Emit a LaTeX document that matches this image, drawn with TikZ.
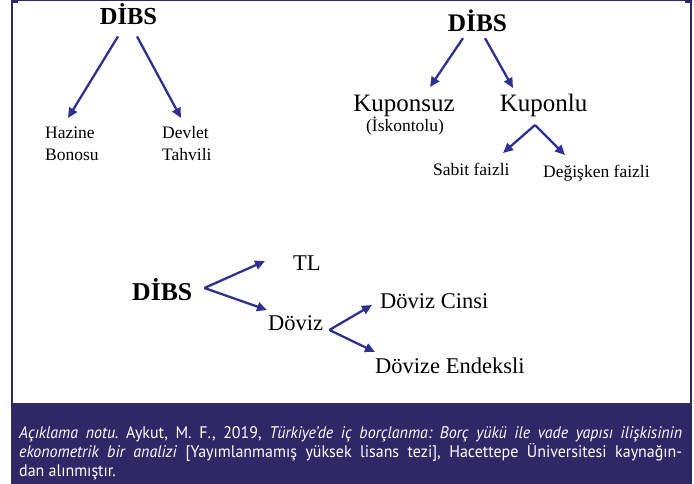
\documentclass[tikz,border=0pt]{standalone}
\usepackage{fontspec}
\setmainfont{Liberation Serif}
\newfontfamily\capfont[FakeStretch=0.95]{PT Sans}
\usetikzlibrary{arrows.meta}
\definecolor{navy}{RGB}{46,41,102}
\definecolor{arrowblue}{RGB}{46,49,146}
\tikzset{
  arr/.style={draw=arrowblue, line width=2.3pt, -{Triangle[length=10pt,width=9pt]}},
  bigbold/.style={inner sep=0pt, font=\fontsize{24.5}{28}\selectfont\bfseries},
  txt/.style={inner sep=0pt, font=\fontsize{17.5}{22}\selectfont, align=left},
  mid/.style={inner sep=0pt, font=\fontsize{22.5}{26}\selectfont},
  big/.style={inner sep=0pt, font=\fontsize{25}{29}\selectfont},
}
\begin{document}
\begin{tikzpicture}[x=1pt,y=-1pt]
\useasboundingbox (0,0) rectangle (694,484);
% frame
\fill[navy] (11,0) rectangle (692,1.4);
\fill[navy] (11,0) rectangle (12.6,403);
\fill[navy] (690.4,0) rectangle (692,403);
\fill[navy] (11,0) rectangle (18,3.5);
\fill[navy] (685,0) rectangle (692,3.5);
\fill[navy] (11,403) rectangle (692,484);

% top-left tree
\node[bigbold, anchor=base] (d1) at (128.5,25) {DİBS};
\node[txt, anchor=north west] (hb) at (45,126.4) {Hazine\\Bonosu};
\node[txt, anchor=north west] (dt) at (162,126.4) {Devlet\\Tahvili};
\draw[arr] ([shift={(-10.5,11)}]d1.south) -- ([shift={(23,-8.4)}]hb.north west);
\draw[arr] ([shift={(8.5,11)}]d1.south) -- ([shift={(19,-8.4)}]dt.north west);

% top-right tree
\node[bigbold, font=\fontsize{25.3}{29}\selectfont\bfseries, anchor=base] (d2) at (477.5,31.7) {DİBS};
\node[big, anchor=base] (kz) at (404,112) {Kuponsuz};
\node[txt, anchor=base] (isk) at (405,132) {(İskontolu)};
\node[big, anchor=base] (kl) at (543.5,112) {Kuponlu};
\node[txt, anchor=base west] (sf) at (433,176) {Sabit faizli};
\node[txt, anchor=base west] (df) at (543,177.5) {Değişken faizli};
\draw[arr] ([shift={(-14.5,6)}]d2.south) -- ([shift={(26,-25)}]kz.base);
\draw[arr] ([shift={(7.5,6)}]d2.south) -- ([shift={(-30.5,-24)}]kl.base);
\coordinate (kp) at ([shift={(-8.5,13)}]kl.base);
\draw[arr] (kp) -- ([shift={(70,-23)}]sf.base west);
\draw[arr] (kp) -- ([shift={(22,-22.5)}]df.base west);

% bottom tree
\node[bigbold, font=\fontsize{25.7}{29}\selectfont\bfseries, anchor=base west] (d3) at (132,300) {DİBS};
\node[mid, anchor=base west] (tl) at (293,270) {TL};
\node[mid, anchor=base west] (dv) at (268,330) {Döviz};
\node[mid, anchor=base west] (dc) at (380,308) {Döviz Cinsi};
\node[mid, anchor=base west] (de) at (375,373) {Dövize Endeksli};
\coordinate (ap1) at ([shift={(12,-12)}]d3.base east);
\draw[arr] (ap1) -- ([shift={(-28,-9)}]tl.base west);
\draw[arr] (ap1) -- ([shift={(-1,-20)}]dv.base west);
\coordinate (ap2) at ([shift={(6,0)}]dv.base east);
\draw[arr] (ap2) -- ([shift={(-8,-3)}]dc.base west);
\draw[arr] (ap2) -- ([shift={(0,-21)}]de.base west);

% caption
\node[inner sep=0pt, anchor=north west, text width=663pt, align=justify, text=white,
      font=\capfont\fontsize{16.8}{19}\selectfont\frenchspacing] (cap) at (19,426)
{\textit{Açıklama notu.} Aykut, M. F., 2019, \textit{Türkiye’de iç borçlanma: Borç yükü ile vade yapısı ilişkisinin}\linebreak
\textit{ekonometrik bir analizi} [Yayımlanmamış yüksek lisans tezi], Hacettepe Üniversitesi kaynağın-\linebreak
dan alınmıştır.};
\end{tikzpicture}
\end{document}
